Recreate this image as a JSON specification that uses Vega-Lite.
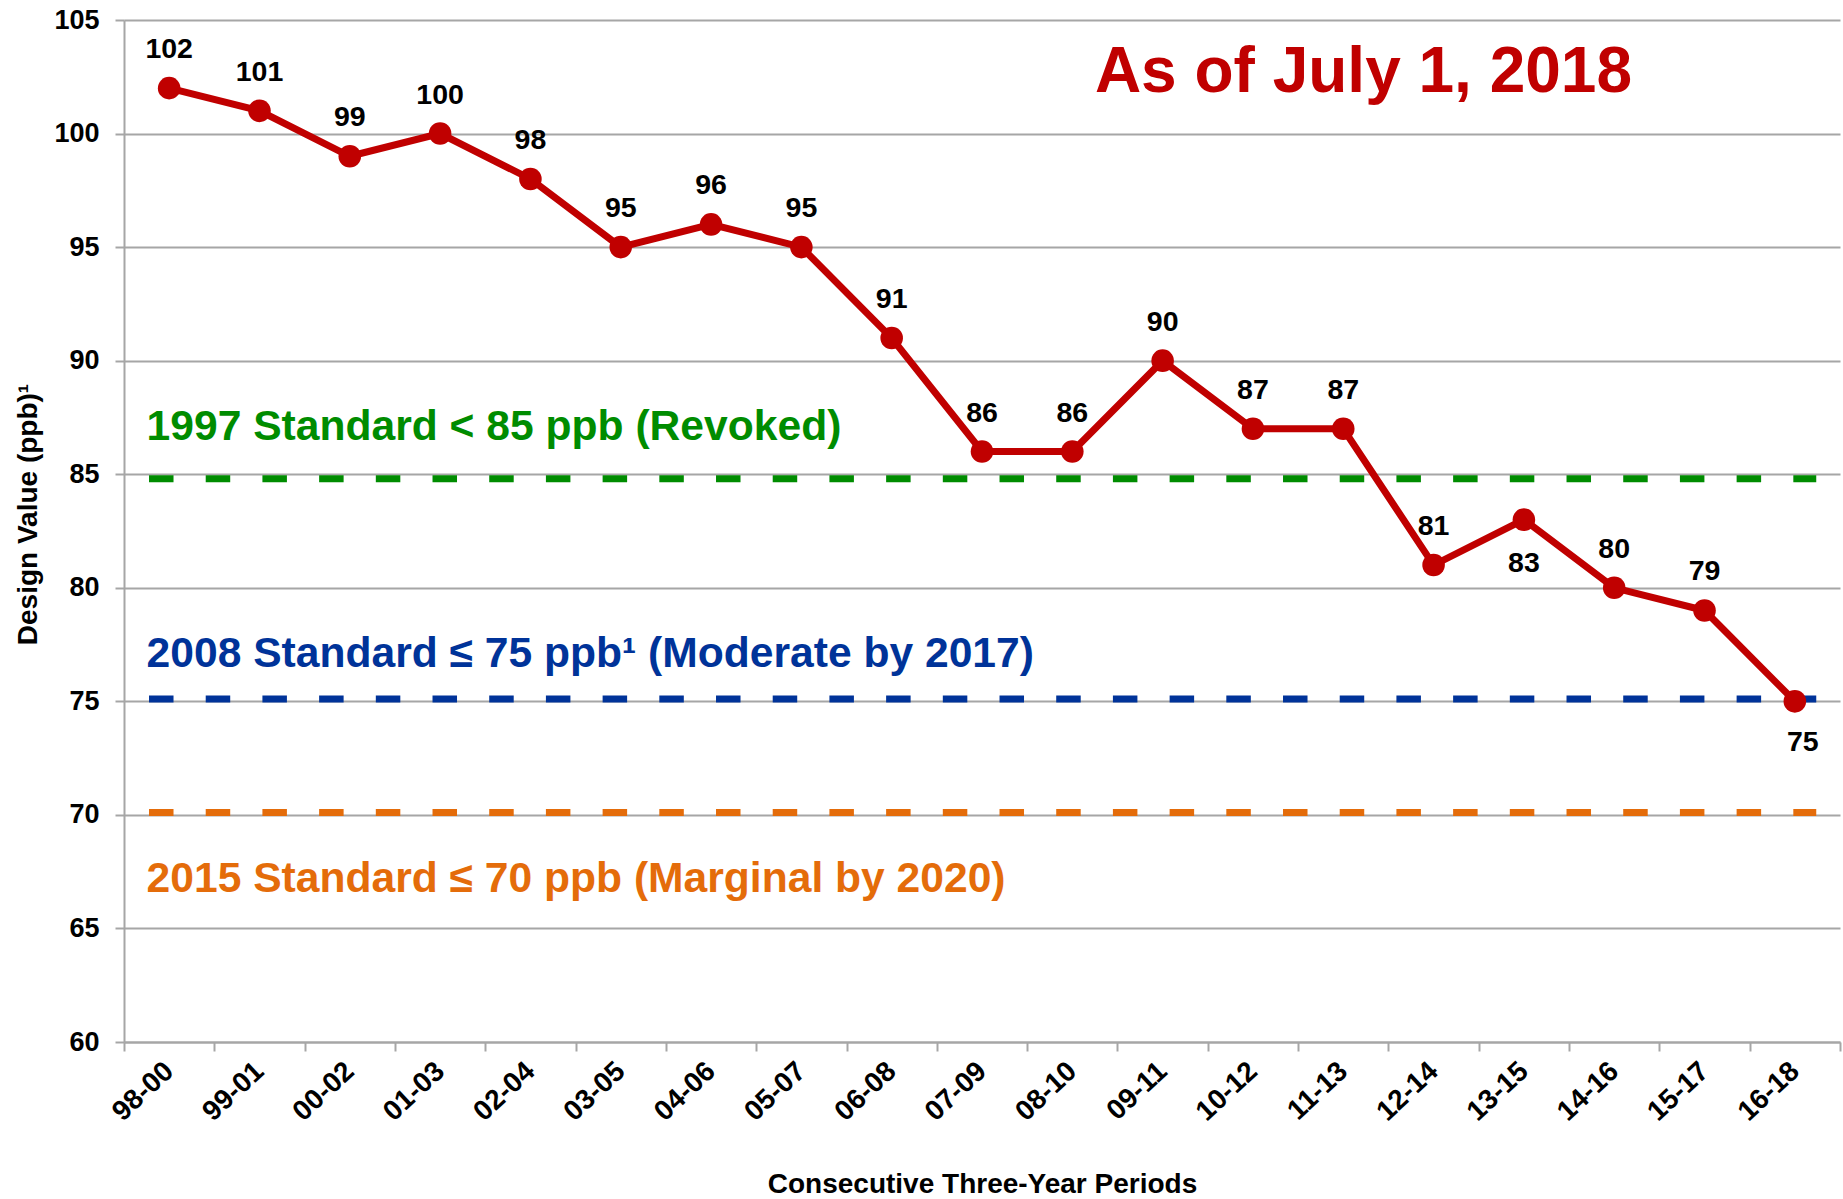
{
  "$schema": "https://vega.github.io/schema/vega-lite/v6.json",
  "width": 1716,
  "height": 1022,
  "autosize": {"type": "none"},
  "padding": {"left": 124, "top": 20, "right": 3, "bottom": 157},
  "background": "white",
  "config": {
    "font": "Liberation Sans",
    "view": {"stroke": null}
  },
  "datasets": {
    "dv": [
      {"period": "98-00", "value": 102},
      {"period": "99-01", "value": 101},
      {"period": "00-02", "value": 99},
      {"period": "01-03", "value": 100},
      {"period": "02-04", "value": 98},
      {"period": "03-05", "value": 95},
      {"period": "04-06", "value": 96},
      {"period": "05-07", "value": 95},
      {"period": "06-08", "value": 91},
      {"period": "07-09", "value": 86},
      {"period": "08-10", "value": 86},
      {"period": "09-11", "value": 90},
      {"period": "10-12", "value": 87},
      {"period": "11-13", "value": 87},
      {"period": "12-14", "value": 81},
      {"period": "13-15", "value": 83},
      {"period": "14-16", "value": 80},
      {"period": "15-17", "value": 79},
      {"period": "16-18", "value": 75}
    ],
    "standards": [
      {"standard": "1997", "value": 84.8, "period": "98-00", "period_end": "16-18"},
      {"standard": "2008", "value": 75.1, "period": "98-00", "period_end": "16-18"},
      {"standard": "2015", "value": 70.1, "period": "98-00", "period_end": "16-18"}
    ],
    "notes": [
      {"standard": "1997", "text": "1997 Standard < 85 ppb (Revoked)", "period": "98-00", "value": 86.5},
      {"standard": "2008", "text": "2008 Standard ≤ 75 ppb¹ (Moderate by 2017)", "period": "98-00", "value": 76.5},
      {"standard": "2015", "text": "2015 Standard ≤ 70 ppb (Marginal by 2020)", "period": "98-00", "value": 66.6}
    ],
    "heading": [
      {"text": "As of July 1, 2018", "period": "08-10", "value": 101.84}
    ]
  },
  "encoding": {
    "x": {
      "field": "period",
      "type": "nominal",
      "scale": {
        "domain": ["98-00","99-01","00-02","01-03","02-04","03-05","04-06","05-07","06-08","07-09","08-10","09-11","10-12","11-13","12-14","13-15","14-16","15-17","16-18"],
        "paddingInner": 0,
        "paddingOuter": 0
      },
      "axis": {
        "title": "Consecutive Three-Year Periods",
        "titleFontSize": 28,
        "titleFontWeight": "bold",
        "titleColor": "black",
        "titleY": 150,
        "titleBaseline": "alphabetic",
        "labelAngle": -43,
        "labelAlign": "right",
        "labelBaseline": "middle",
        "labelFontSize": 28,
        "labelFontWeight": "bold",
        "labelColor": "black",
        "labelPadding": 16,
        "tickBand": "extent",
        "tickSize": 9,
        "tickColor": "#A6A6A6",
        "tickWidth": 2,
        "domainColor": "#A6A6A6",
        "domainWidth": 2,
        "grid": false
      }
    },
    "y": {
      "field": "value",
      "type": "quantitative",
      "scale": {"domain": [60, 105], "nice": false, "zero": false},
      "axis": {
        "title": "Design Value (ppb)¹",
        "titleFontSize": 28,
        "titleFontWeight": "bold",
        "titleColor": "black",
        "titleX": -88,
        "titleY": 494,
        "titleBaseline": "alphabetic",
        "values": [60, 65, 70, 75, 80, 85, 90, 95, 100, 105],
        "labelFontSize": 27,
        "labelFontWeight": "bold",
        "labelColor": "black",
        "labelPadding": 16,
        "tickSize": 9,
        "tickColor": "#A6A6A6",
        "tickWidth": 2,
        "domainColor": "#A6A6A6",
        "domainWidth": 2,
        "gridColor": "#A6A6A6",
        "gridWidth": 2
      }
    }
  },
  "layer": [
    {
      "data": {"name": "standards"},
      "mark": {"type": "rule", "strokeWidth": 7, "strokeDash": [24.5, 32.2], "strokeCap": "butt"},
      "encoding": {
        "x": {"field": "period", "type": "nominal", "bandPosition": 0.277},
        "x2": {"field": "period_end", "bandPosition": 0.737},
        "color": {
          "field": "standard",
          "type": "nominal",
          "scale": {"domain": ["1997", "2008", "2015"], "range": ["#008C00", "#003399", "#E46C0A"]},
          "legend": null
        }
      }
    },
    {
      "data": {"name": "dv"},
      "mark": {"type": "line", "color": "#C00000", "strokeWidth": 7},
      "encoding": {}
    },
    {
      "data": {"name": "dv"},
      "mark": {"type": "point", "filled": true, "color": "#C00000", "size": 510, "opacity": 1, "shape": "circle"},
      "encoding": {}
    },
    {
      "data": {"name": "dv"},
      "transform": [{"filter": "datum.period !== '13-15' && datum.period !== '16-18'"}],
      "mark": {"type": "text", "fontSize": 28.5, "fontWeight": "bold", "color": "black", "baseline": "alphabetic", "align": "center", "dy": -30},
      "encoding": {"text": {"field": "value", "type": "quantitative"}}
    },
    {
      "data": {"name": "dv"},
      "transform": [{"filter": "datum.period === '13-15'"}],
      "mark": {"type": "text", "fontSize": 28.5, "fontWeight": "bold", "color": "black", "baseline": "alphabetic", "align": "center", "dy": 52},
      "encoding": {"text": {"field": "value", "type": "quantitative"}}
    },
    {
      "data": {"name": "dv"},
      "transform": [{"filter": "datum.period === '16-18'"}],
      "mark": {"type": "text", "fontSize": 28.5, "fontWeight": "bold", "color": "black", "baseline": "alphabetic", "align": "center", "dy": 50, "dx": 8},
      "encoding": {"text": {"field": "value", "type": "quantitative"}}
    },
    {
      "data": {"name": "notes"},
      "mark": {"type": "text", "fontSize": 42.6, "fontWeight": "bold", "baseline": "alphabetic", "align": "left"},
      "encoding": {
        "x": {"field": "period", "type": "nominal", "bandPosition": 0.25},
        "text": {"field": "text", "type": "nominal"},
        "color": {"field": "standard", "type": "nominal", "legend": null}
      }
    },
    {
      "data": {"name": "heading"},
      "mark": {"type": "text", "fontSize": 64, "fontWeight": "bold", "baseline": "alphabetic", "align": "left", "color": "#C00000"},
      "encoding": {
        "x": {"field": "period", "type": "nominal", "bandPosition": 0.75},
        "text": {"field": "text", "type": "nominal"}
      }
    }
  ]
}
